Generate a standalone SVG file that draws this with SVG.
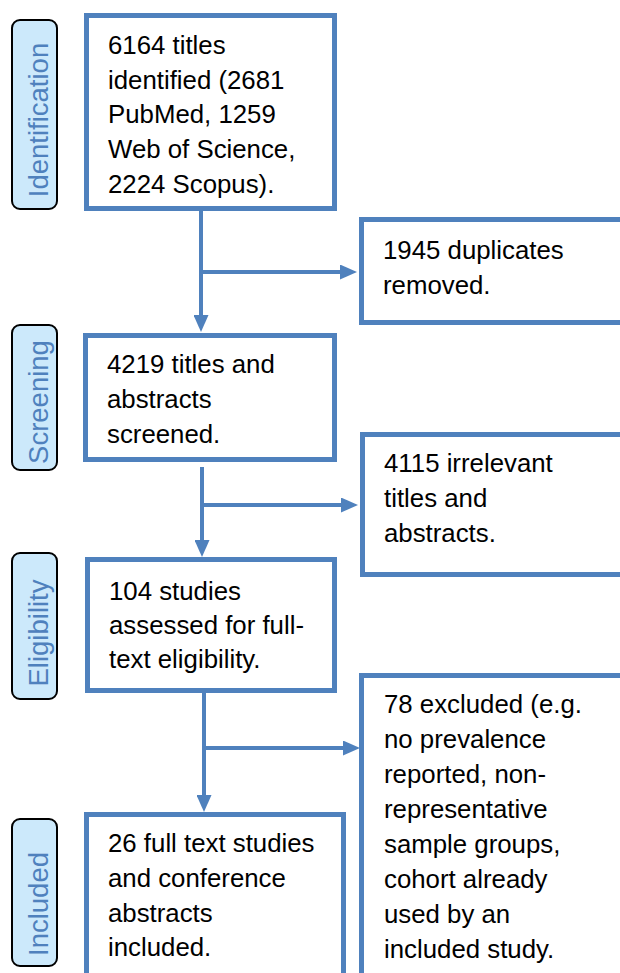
<svg xmlns="http://www.w3.org/2000/svg" width="620" height="973" viewBox="0 0 620 973">
<defs>
<style>
.box{fill:#fff;stroke:#4f81bd;stroke-width:5}
.lbl{fill:#cce9fb;stroke:#000;stroke-width:2}
.lt{font-family:"Liberation Sans",Arial,sans-serif;font-size:27.5px;fill:#4f81bd;text-anchor:middle}
.t{font-family:"Liberation Sans",Arial,sans-serif;font-size:25.8px;fill:#000}
.c{stroke:#4f81bd;stroke-width:4;fill:none}
</style>
<marker id="ah" markerUnits="userSpaceOnUse" markerWidth="17" markerHeight="15" refX="7" refY="7.5" orient="auto">
<path d="M0,0 L17,7.5 L0,15 z" fill="#4f81bd"/>
</marker>
</defs>
<rect width="620" height="973" fill="#fff"/>

<g id="label-identification">
<rect class="lbl" x="12" y="20" width="45" height="189" rx="8"/>
<text class="lt" transform="translate(47.5,120) rotate(-90)">Identification</text>
</g>
<g id="label-screening">
<rect class="lbl" x="12" y="325" width="45" height="145" rx="8"/>
<text class="lt" transform="translate(47.5,402) rotate(-90)">Screening</text>
</g>
<g id="label-eligibility">
<rect class="lbl" x="12" y="553" width="45" height="146" rx="8"/>
<text class="lt" transform="translate(47.5,633) rotate(-90)">Eligibility</text>
</g>
<g id="label-included">
<rect class="lbl" x="12" y="819" width="45" height="147" rx="8"/>
<text class="lt" transform="translate(47.5,904) rotate(-90)">Included</text>
</g>

<g id="connectors">
<line class="c" x1="201" y1="209" x2="201" y2="322" marker-end="url(#ah)"/>
<line class="c" x1="201" y1="272" x2="347" y2="272" marker-end="url(#ah)"/>
<line class="c" x1="202" y1="467" x2="202" y2="547" marker-end="url(#ah)"/>
<line class="c" x1="202" y1="505" x2="348" y2="505" marker-end="url(#ah)"/>
<line class="c" x1="204" y1="693" x2="204" y2="802" marker-end="url(#ah)"/>
<line class="c" x1="204" y1="748" x2="350" y2="748" marker-end="url(#ah)"/>
</g>

<g id="box-identified">
<rect class="box" x="86.5" y="15.5" width="248" height="193"/>
<text class="t" x="108" y="54">6164 titles</text>
<text class="t" x="108" y="89">identified (2681</text>
<text class="t" x="108" y="123">PubMed, 1259</text>
<text class="t" x="108" y="158">Web of Science,</text>
<text class="t" x="108" y="193">2224 Scopus).</text>
</g>
<g id="box-duplicates">
<rect class="box" x="361.5" y="219.5" width="300" height="103"/>
<text class="t" x="383" y="259">1945 duplicates</text>
<text class="t" x="383" y="294">removed.</text>
</g>
<g id="box-screened">
<rect class="box" x="85.5" y="335.5" width="249" height="124"/>
<text class="t" x="107" y="373">4219 titles and</text>
<text class="t" x="107" y="408">abstracts</text>
<text class="t" x="107" y="443">screened.</text>
</g>
<g id="box-irrelevant">
<rect class="box" x="362.5" y="434.5" width="300" height="140"/>
<text class="t" x="384" y="472">4115 irrelevant</text>
<text class="t" x="384" y="507">titles and</text>
<text class="t" x="384" y="542">abstracts.</text>
</g>
<g id="box-eligibility">
<rect class="box" x="87.5" y="559.5" width="247" height="131"/>
<text class="t" x="109" y="600">104 studies</text>
<text class="t" x="109" y="634">assessed for full-</text>
<text class="t" x="109" y="668">text eligibility.</text>
</g>
<g id="box-excluded">
<rect class="box" x="361.5" y="675.5" width="300" height="400"/>
<text class="t" x="384" y="713">78 excluded (e.g.</text>
<text class="t" x="384" y="748">no prevalence</text>
<text class="t" x="384" y="783">reported, non-</text>
<text class="t" x="384" y="818">representative</text>
<text class="t" x="384" y="853">sample groups,</text>
<text class="t" x="384" y="888">cohort already</text>
<text class="t" x="384" y="923">used by an</text>
<text class="t" x="384" y="958">included study.</text>
</g>
<g id="box-included">
<rect class="box" x="86.5" y="814.5" width="257" height="200"/>
<text class="t" x="108" y="852">26 full text studies</text>
<text class="t" x="108" y="887">and conference</text>
<text class="t" x="108" y="922">abstracts</text>
<text class="t" x="108" y="956">included.</text>
</g>
</svg>
